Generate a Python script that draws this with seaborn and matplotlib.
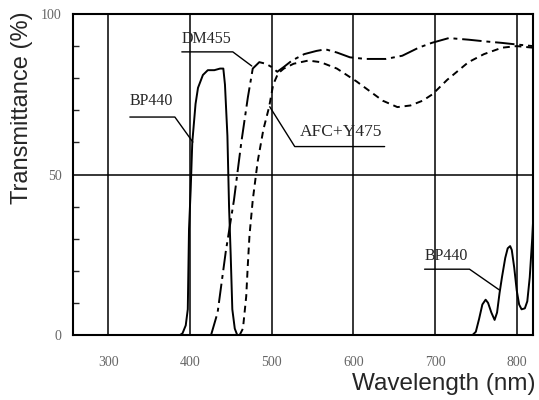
import seaborn as sns
import pandas as pd
import matplotlib.pyplot as plt
from matplotlib.ticker import MultipleLocator

# BP440 excitation filter, main pass band
bp_wl = [388, 391, 395, 397.5, 399, 401, 403, 407, 410, 416, 422, 430, 437, 441,
         443, 446, 448, 450, 452, 455, 458]
bp_t = [0, 0.5, 3, 8, 33, 45, 60, 72, 77, 81, 82.5, 82.5, 83, 83,
        78, 62, 40, 25, 8, 2, 0]

# BP440 red leak
leak_wl = [746, 750, 754, 758, 762, 765, 769, 773, 776, 779, 782, 786, 789, 792,
           794, 797, 800, 803, 806, 810, 813, 816, 819, 822]
leak_t = [0, 1, 5, 9.5, 11, 10, 7, 4.7, 7, 13, 18, 24, 27, 27.7,
          26.5, 21, 14, 9.5, 8, 8.3, 10.5, 18, 30, 45]

# DM455 dichroic mirror
dm_wl = [426, 434, 444, 454, 463, 471, 477, 485, 493, 500, 507, 515, 525, 540,
         555, 566, 580, 596, 615, 640, 660, 680, 696, 717, 741, 760, 782, 800, 820]
dm_t = [0, 7, 26, 42, 60, 74, 83, 85, 84.5, 83.5, 82, 83.5, 85.5, 87.5,
        88.5, 89, 88, 86.5, 86, 86, 87, 89.5, 91, 92.5, 92, 91.5, 91, 90.5, 90]

# AFC + Y475 barrier filter
afc_wl = [461, 465, 469, 471, 473, 477, 483, 490, 497, 502, 508, 515, 527, 545,
          560, 580, 604, 620, 636, 654, 670, 685, 697, 715, 741, 760, 782, 800, 820]
afc_t = [0, 2, 12, 22, 31, 42, 54, 64, 71, 78, 81.5, 83, 84.5, 85.5,
         85, 83, 79, 76, 73, 71, 71.5, 73, 75, 79.5, 85, 87.5, 89.5, 90, 89.5]

x_ticks = [300, 400, 500, 600, 700, 800]
y_ticks = [0, 50, 100]

sns.set_style("white")
plt.rcParams['font.family'] = ['Liberation Serif', 'DejaVu Serif']

fig = plt.figure(figsize=(5.39, 4.0), dpi=100)
ax = fig.add_axes([0.1354, 0.1625, 0.8535, 0.8025])

for xv in x_ticks:
    ax.axvline(xv, color="black", lw=1.1, zorder=1)
ax.axhline(50, color="black", lw=1.1, zorder=1)

sns.lineplot(x=bp_wl, y=bp_t, ax=ax, color="black", lw=1.4, sort=False, zorder=3)
sns.lineplot(x=leak_wl, y=leak_t, ax=ax, color="black", lw=1.4, sort=False, zorder=3)
sns.lineplot(x=dm_wl, y=dm_t, ax=ax, color="black", lw=1.4, sort=False,
             linestyle=(0, (10, 2.5, 2, 2.5)), zorder=3)
sns.lineplot(x=afc_wl, y=afc_t, ax=ax, color="black", lw=1.4, sort=False,
             linestyle=(0, (3.5, 2.5)), zorder=3)

ax.set_xlim(257, 820)
ax.set_ylim(0, 100)
ax.set_xticks(x_ticks)
ax.set_yticks(y_ticks)
ax.yaxis.set_minor_locator(MultipleLocator(10))
ax.tick_params(axis="x", length=0, pad=15, labelsize=10, labelcolor="#666666")
ax.tick_params(axis="y", which="major", direction="in", length=4, width=1,
               pad=8, labelsize=10, labelcolor="#666666")
ax.tick_params(axis="y", which="minor", direction="in", length=4, width=1, left=True)
ax.set_xlabel("")
ax.set_ylabel("")
for sp in ax.spines.values():
    sp.set_color("black")
    sp.set_linewidth(1.5)

# leaders and labels
kw = dict(color="black", lw=1.0, zorder=4, clip_on=False)
ax.plot([326.6, 381.7, 403.7], [67.9, 67.9, 60.1], **kw)
ax.text(326.6, 73, "BP440", fontsize=11.5, va="center", ha="left")
ax.plot([390.2, 452.6, 475.8], [88.2, 88.2, 83.8], **kw)
ax.text(390.2, 92.2, "DM455", fontsize=11.5, va="center", ha="left")
ax.plot([497.8, 528.4, 638.4], [71.1, 58.7, 58.7], **kw)
ax.text(534.5, 63.3, "AFC+Y475", fontsize=12.5, va="center", ha="left")
ax.plot([687.3, 742.3, 779.0], [20.5, 20.5, 14.0], **kw)
ax.text(687.3, 24.6, "BP440", fontsize=11.5, va="center", ha="left")

sans = ['Liberation Sans', 'DejaVu Sans']
fig.text(0.041, 0.73, "Transmittance (%)", rotation=90, fontsize=17,
         ha="center", va="center", family=sans)
fig.text(0.993, 0.04, "Wavelength (nm)", fontsize=17.5, ha="right", va="center",
         family=sans)

fig.savefig("out.png", dpi=100)
